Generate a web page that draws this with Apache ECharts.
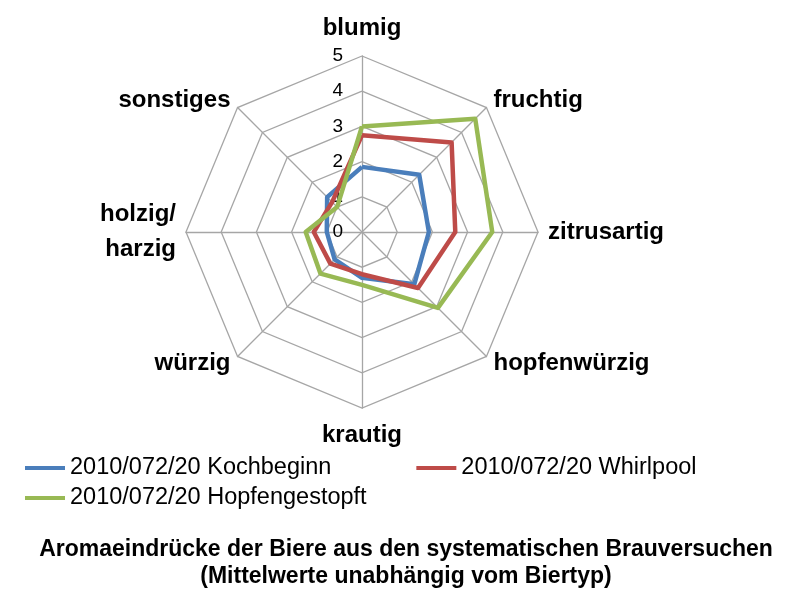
<!DOCTYPE html>
<html><head><meta charset="utf-8">
<script src="https://cdn.jsdelivr.net/npm/echarts@6/dist/echarts.min.js"></script>
<style>html,body{margin:0;padding:0;background:#fff}#c{width:812px;height:598px}</style>
</head><body><div id="c"></div>
<script>
const categories = ['blumig', 'fruchtig', 'zitrusartig', 'hopfenwürzig', 'krautig', 'würzig', 'holzig/\nharzig', 'sonstiges'];
const seriesNames = ['2010/072/20 Kochbeginn', '2010/072/20 Whirlpool', '2010/072/20 Hopfengestopft'];
const kochbeginn = [1.85, 2.3, 1.9, 2.1, 1.3, 1.1, 1.0, 1.4];
const whirlpool = [2.75, 3.6, 2.65, 2.25, 1.2, 1.27, 1.37, 1.2];
const hopfengestopft = [3.0, 4.55, 3.7, 3.05, 1.5, 1.67, 1.6, 1.0];
const axisMin = 0, axisMax = 5, axisStep = 1;
const titleText = 'Aromaeindrücke der Biere aus den systematischen Brauversuchen\n(Mittelwerte unabhängig vom Biertyp)';
const colors = ['#4A7EBB', '#BE4B48', '#98B954'];

// ECharts lays radar indicators counter-clockwise; reorder so they run clockwise.
const order = [0, 7, 6, 5, 4, 3, 2, 1];
const reorder = arr => order.map(i => arr[i]);

const indicator = reorder(categories).map((name, k) => {
  const o = { name: name, min: axisMin, max: axisMax };
  if (k === 0) o.axisLabel = { show: true };
  return o;
});

const legendFont = { fontFamily: 'Liberation Sans', fontSize: 23.5, color: '#000' };

const chart = echarts.init(document.getElementById('c'), null, { renderer: 'canvas' });
chart.setOption({
  backgroundColor: '#fff',
  animation: false,
  color: colors,
  title: {
    text: titleText,
    left: 'center', top: 531,
    textStyle: { fontFamily: 'Liberation Sans', fontWeight: 'bold', fontSize: 23, lineHeight: 27, color: '#000' }
  },
  legend: [{
    data: [seriesNames[0], seriesNames[1]],
    left: 20, top: 451, itemGap: 85, itemWidth: 40, itemHeight: 4,
    icon: 'rect', textStyle: legendFont, itemStyle: { borderWidth: 0 }
  }, {
    data: [seriesNames[2]],
    left: 20, top: 481, itemWidth: 40, itemHeight: 4,
    icon: 'rect', textStyle: legendFont, itemStyle: { borderWidth: 0 }
  }],
  radar: {
    center: [362, 232],
    radius: 176,
    startAngle: 90,
    shape: 'polygon',
    splitNumber: 5,
    indicator: indicator,
    nameGap: 10,
    axisName: { color: '#000', fontFamily: 'Liberation Sans', fontWeight: 'bold', fontSize: 24, lineHeight: 35 },
    axisLine: { lineStyle: { color: '#A6A6A6', width: 1.3 } },
    splitLine: { lineStyle: { color: '#A6A6A6', width: 1.3 } },
    splitArea: { show: false },
    axisTick: { show: false },
    axisLabel: { show: false, color: '#000', fontFamily: 'Liberation Sans', fontSize: 19, margin: 19, showMinLabel: true }
  },
  series: [{
    type: 'radar',
    symbol: 'none',
    lineStyle: { width: 4.5 },
    data: [
      { name: seriesNames[0], value: reorder(kochbeginn), lineStyle: { color: colors[0], width: 4.5 } },
      { name: seriesNames[1], value: reorder(whirlpool), lineStyle: { color: colors[1], width: 4.5 } },
      { name: seriesNames[2], value: reorder(hopfengestopft), lineStyle: { color: colors[2], width: 4.5 } }
    ]
  }]
});
</script></body></html>
